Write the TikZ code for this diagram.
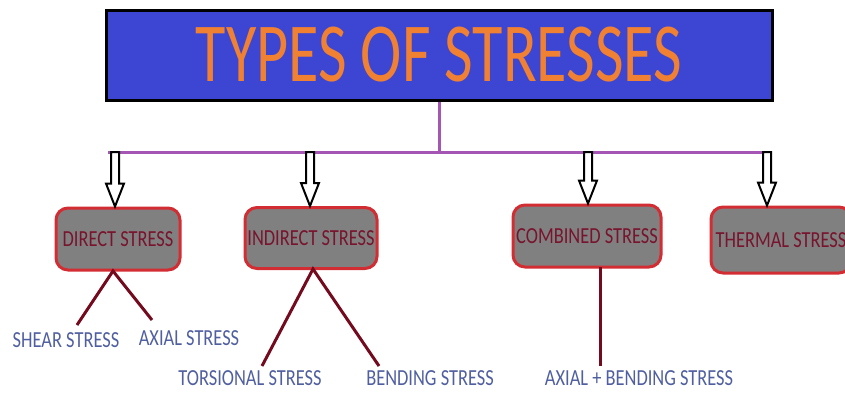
\documentclass[tikz,border=0pt]{standalone}
\usepackage{fontspec}
\setmainfont{Carlito}
\newfontfamily\titlefont[FakeStretch=0.74]{Carlito}
\newfontfamily\narrowfont[FakeStretch=0.8]{Carlito}
\usetikzlibrary{calc}

\definecolor{titleblue}{RGB}{60,70,210}
\definecolor{titleorange}{RGB}{240,128,50}
\definecolor{boxred}{RGB}{210,45,50}
\definecolor{boxgray}{RGB}{128,128,128}
\definecolor{labelred}{RGB}{120,20,45}
\definecolor{linered}{RGB}{115,10,30}
\definecolor{buspurple}{RGB}{165,85,180}
\definecolor{subblue}{RGB}{80,95,160}

\tikzset{
  titlebox/.style={rectangle, draw=black, line width=3pt, fill=titleblue, text=titleorange, inner sep=0pt, font=\titlefont\fontsize{84}{84}\selectfont},
  stressbox/.style={rectangle, rounded corners=12pt, draw=boxred, line width=3pt, fill=boxgray, text=labelred, inner sep=0pt, font=\narrowfont\fontsize{23}{23}\selectfont},
  sublabel/.style={text=subblue, inner sep=1pt, font=\narrowfont\fontsize{23}{23}\selectfont},
  busline/.style={buspurple, line width=3pt},
  branch/.style={linered, line width=3pt},
  hollowarrow/.style={draw=black, fill=white, line width=2pt, line join=miter}
}

% hollow block arrow from #1 down to #2
\newcommand{\blockarrow}[2]{%
  \draw[hollowarrow] let \p1=(#1), \p2=(#2) in
    (\x1-4pt,\y1) -- (\x1-4pt,\y2+23pt) -- (\x1-9pt,\y2+23pt) -- (\x1,\y2)
    -- (\x1+9pt,\y2+23pt) -- (\x1+4pt,\y2+23pt) -- (\x1+4pt,\y1) -- cycle;}

\begin{document}
\begin{tikzpicture}[x=1pt, y=-1pt]
    \useasboundingbox (0,0) rectangle (845,392);

    % Title
    \node (title) at (439,55) [titlebox, minimum width=666pt, minimum height=90pt] {TYPES OF STRESSES};

    % Stress boxes
    \node (direct) at (118,239) [stressbox, minimum width=124pt, minimum height=62pt] {DIRECT STRESS};
    \node (indirect) at (311,238) [stressbox, minimum width=132pt, minimum height=61pt] {INDIRECT STRESS};
    \node (combined) at (587,236) [stressbox, minimum width=148pt, minimum height=62pt] {COMBINED STRESS};
    \node (thermal) at (781,240) [stressbox, minimum width=140pt, minimum height=66pt] {THERMAL STRESS};

    % Sub types
    \node (shear) at (66,340) [sublabel] {SHEAR STRESS};
    \node (axial) at (189,338) [sublabel] {AXIAL STRESS};
    \node (torsional) at (250,378) [sublabel] {TORSIONAL STRESS};
    \node (bending) at (430,378) [sublabel] {BENDING STRESS};
    \node (axialbending) at (639,378) [sublabel] {AXIAL + BENDING STRESS};

    % Bus from the title
    \coordinate (busL) at (108,152);
    \coordinate (busR) at (771,152);
    \draw[busline] (busL) -- (busR);
    \draw[busline] (title.south) -- (title.south |- busL);

    % Arrows down to the boxes
    \foreach \k/\x/\b in {1/115/direct, 2/310/indirect, 3/588/combined, 4/767/thermal} {
        \coordinate (top\k) at (\x,152);
        \coordinate (tip\k) at (top\k |- \b.north);
        \blockarrow{top\k}{tip\k}
    }

    % Branches to the sub types
    \coordinate (directfoot) at (113,271);
    \coordinate (shearend) at (77,325);
    \coordinate (axialend) at (152,320);
    \draw[branch] (shearend) -- (directfoot) -- (axialend);

    \coordinate (indirectfoot) at (313,269);
    \coordinate (torsionalend) at (262,366);
    \coordinate (bendingend) at (379,366);
    \draw[branch] (torsionalend) -- (indirectfoot) -- (bendingend);

    \coordinate (combinedfoot) at (600,267);
    \coordinate (axialbendingend) at (600,366);
    \draw[branch] (combinedfoot) -- (axialbendingend);

\end{tikzpicture}
\end{document}
